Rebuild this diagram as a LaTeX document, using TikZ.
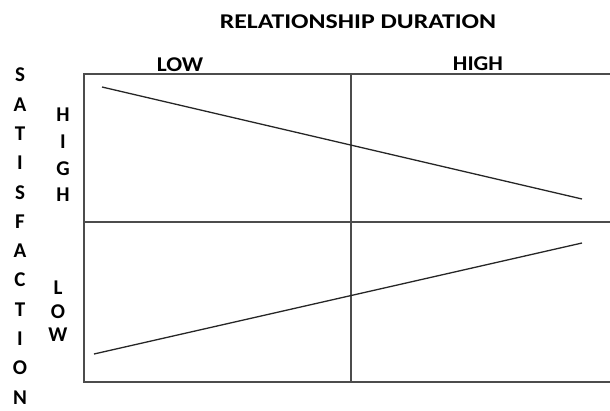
\documentclass[tikz,border=0pt]{standalone}
\usepackage{fontspec}
\setmainfont{Carlito}
\begin{document}
\begin{tikzpicture}[x=1pt,y=-1pt,
  lbl/.style={font=\fontsize{21}{24}\selectfont\bfseries, inner sep=0pt, text=black},
  frame/.style={draw=black!70, line width=1.6pt},
  trend/.style={draw=black!85, line width=1.3pt}]
\useasboundingbox (0,0) rectangle (610,410);
% frame
\coordinate (tl) at (84,74);
\coordinate (tr) at (610,74);
\coordinate (bl) at (84,382);
\coordinate (br) at (610,382);
\coordinate (ml) at (84,222);
\coordinate (mr) at (610,222);
\coordinate (mt) at (351,74);
\coordinate (mb) at (351,382);
\draw[frame] (tr) -- (tl) -- (bl) -- (br);
\draw[frame] (ml) -- (mr);
\draw[frame] (mt) -- (mb);
% trend lines
\coordinate (a1) at (102,87);
\coordinate (a2) at (582,199);
\coordinate (b1) at (94,354);
\coordinate (b2) at (582,243);
\draw[trend] (a1) -- (a2);
\draw[trend] (b1) -- (b2);
% labels
\node[lbl, xscale=1.23] (title) at (358,22) {RELATIONSHIP DURATION};
\node[lbl, xscale=1.12] (xlow) at (180,65) {LOW};
\node[lbl, xscale=1.1] (xhigh) at (478,64) {HIGH};
\foreach \ch [count=\i] in {S,A,T,I,S,F,A,C,T,I,O,N} {
  \node[lbl] (s\i) at (20,{75+(\i-1)*29.3}) {\ch};
}
\foreach \ch [count=\i] in {H,I,G,H} {
  \node[lbl] (h\i) at (63,{115+(\i-1)*26.7}) {\ch};
}
\foreach \ch [count=\i] in {L,O,W} {
  \node[lbl] (l\i) at (58,{288+(\i-1)*23.5}) {\ch};
}
\end{tikzpicture}
\end{document}
